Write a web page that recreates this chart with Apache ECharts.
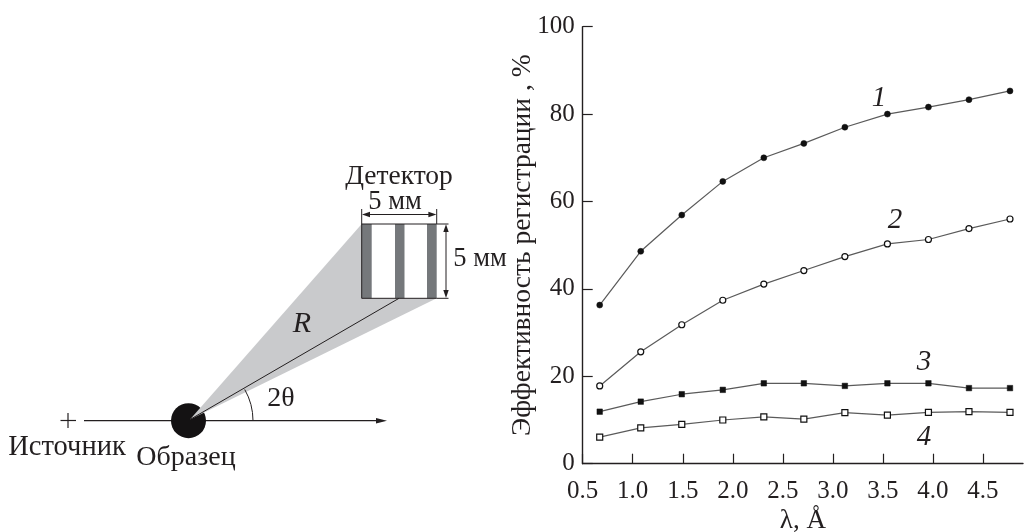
<!DOCTYPE html>
<html><head><meta charset="utf-8">
<style>html,body{margin:0;padding:0;background:#fff}#c{width:1024px;height:532px}</style>
<script src="https://cdn.jsdelivr.net/npm/echarts@6/dist/echarts.min.js"></script>
</head><body><div id="c"></div>
<script>
const lambda = [0.67,1.08,1.49,1.90,2.31,2.71,3.12,3.545,3.955,4.36,4.77];
const curve1 = [36.3,48.6,56.9,64.6,70.0,73.3,77.0,80.0,81.6,83.3,85.3];
const curve2 = [17.8,25.6,31.8,37.4,41.1,44.2,47.4,50.3,51.3,53.8,56.0];
const curve3 = [11.9,14.2,15.9,16.9,18.4,18.4,17.8,18.4,18.4,17.3,17.3];
const curve4 = [6.1,8.2,9.0,10.0,10.7,10.2,11.7,11.1,11.75,11.9,11.75];
const xTicks = [0.5,1.0,1.5,2.0,2.5,3.0,3.5,4.0,4.5];
const curveLabels = [['1',3.46,83.7],['2',3.62,55.6],['3',3.91,23.3],['4',3.91,6.1]];
const yTitle = 'Эффективность регистрации , %';
const xTitle = 'λ, Å';

const FONT = '"Liberation Serif","Times New Roman",serif';
const INK = '#231f20';
const zip = ys => ys.map((v,i)=>[lambda[i],v]);
function mk(name, ys, symbol, size, fill, lab){
  return {
    name, type:'line', data:zip(ys), symbol, symbolSize:size, showSymbol:true, clip:false,
    lineStyle:{color:'#5a5a5a',width:1.2},
    itemStyle:{color:fill,borderColor:'#111',borderWidth:fill==='#fff'?1.2:0.5,opacity:1},
    markPoint:{symbol:'circle',symbolSize:0,silent:true,
      data:[{coord:[lab[1],lab[2]],value:lab[0]}],
      label:{show:true,position:'inside',formatter:lab[0],fontFamily:FONT,fontStyle:'italic',fontSize:29,color:INK}}
  };
}
function line(x1,y1,x2,y2,w,c){return {type:'line',shape:{x1,y1,x2,y2},style:{stroke:c||INK,lineWidth:w||1}};}
function poly(pts,c){return {type:'polygon',shape:{points:pts},style:{fill:c||INK}};}
function txt(t,x,y,size,extra){return {type:'text',x,y,style:Object.assign({text:t,fontFamily:FONT,fontSize:size,fill:INK,align:'center',verticalAlign:'middle'},extra||{})};}

const apex=[190,419.5];
const schematic=[
  line(84,420.7,380,420.7,1.2),
  poly([[387,420.7],[376,418],[376,423.4]]),
  line(60.5,420.5,76,420.5,1.2),
  line(68,413,68,428,1.2),
  {type:'circle',shape:{cx:188.5,cy:420.7,r:17.5},style:{fill:'#141213'}},
  poly([apex,[361.7,224],[436.7,298.3]],'#c9cacc'),
  {type:'rect',shape:{x:361.7,y:224,width:75,height:74.3},style:{fill:'#fff'}},
  {type:'rect',shape:{x:361.7,y:224,width:10,height:74.3},style:{fill:'#75787b'}},
  {type:'rect',shape:{x:395,y:224,width:9.5,height:74.3},style:{fill:'#75787b'}},
  {type:'rect',shape:{x:427,y:224,width:9.7,height:74.3},style:{fill:'#75787b'}},
  line(361.7,224,436.7,224,1),
  line(361.7,298.3,436.7,298.3,1),
  line(361.7,209,361.7,298.3,1),
  line(436.7,209,436.7,224,1),
  line(436.7,224,448.5,224,1),
  line(436.7,298.3,448.5,298.3,1),
  line(366,214.5,432,214.5,1),
  poly([[362,214.5],[370,211.8],[370,217.2]]),
  poly([[436.4,214.5],[428.4,211.8],[428.4,217.2]]),
  line(446,228,446,294,1),
  poly([[446,224.3],[443.3,232],[448.7,232]]),
  poly([[446,298],[443.3,290],[448.7,290]]),
  line(apex[0],apex[1],399,298.3,1),
  {type:'arc',shape:{cx:190,cy:420.7,r:63,startAngle:-Math.PI*0.165,endAngle:0,clockwise:true},style:{stroke:INK,lineWidth:1,fill:'none'}},
  txt('Детектор',399,177,27.5),
  txt('5 мм',395,202,26.5),
  txt('5 мм',480,259,26.5),
  txt('R',302,324,30,{fontStyle:'italic'}),
  txt('2θ',281,399,28),
  txt('Источник',67,448,28.5),
  txt('Образец',186,458,28)
];

const chart=echarts.init(document.getElementById('c'),null,{renderer:'canvas'});
chart.setOption({
  animation:false, backgroundColor:'#fff',
  grid:{left:582.7,top:26.7,right:1,bottom:68.3,containLabel:false,outerBoundsMode:'none'},
  xAxis:{type:'value',min:0.5,max:4.9,
    name:xTitle,nameLocation:'middle',nameGap:44,nameMoveOverlap:false,
    nameTextStyle:{fontFamily:FONT,fontSize:27,color:INK},
    splitLine:{show:false},
    axisLine:{show:true,onZero:false,lineStyle:{color:INK,width:1.4}},
    axisTick:{show:true,inside:true,length:10,customValues:xTicks,lineStyle:{color:INK,width:1.2}},
    axisLabel:{show:true,customValues:xTicks,margin:15,fontFamily:FONT,fontSize:25,color:INK,formatter:v=>v.toFixed(1)}},
  yAxis:{type:'value',min:0,max:100,interval:20,
    name:yTitle,nameLocation:'middle',nameGap:46,nameRotate:90,nameMoveOverlap:false,
    nameTextStyle:{fontFamily:FONT,fontSize:27.5,color:INK},
    splitLine:{show:false},
    axisLine:{show:true,onZero:false,lineStyle:{color:INK,width:1.4}},
    axisTick:{show:true,inside:true,length:10,lineStyle:{color:INK,width:1.2}},
    axisLabel:{show:true,margin:8,fontFamily:FONT,fontSize:25,color:INK}},
  series:[
    mk('1',curve1,'circle',6,'#111',curveLabels[0]),
    mk('2',curve2,'circle',6,'#fff',curveLabels[1]),
    mk('3',curve3,'rect',5.5,'#111',curveLabels[2]),
    mk('4',curve4,'rect',6,'#fff',curveLabels[3])
  ],
  graphic:schematic
});
</script></body></html>
